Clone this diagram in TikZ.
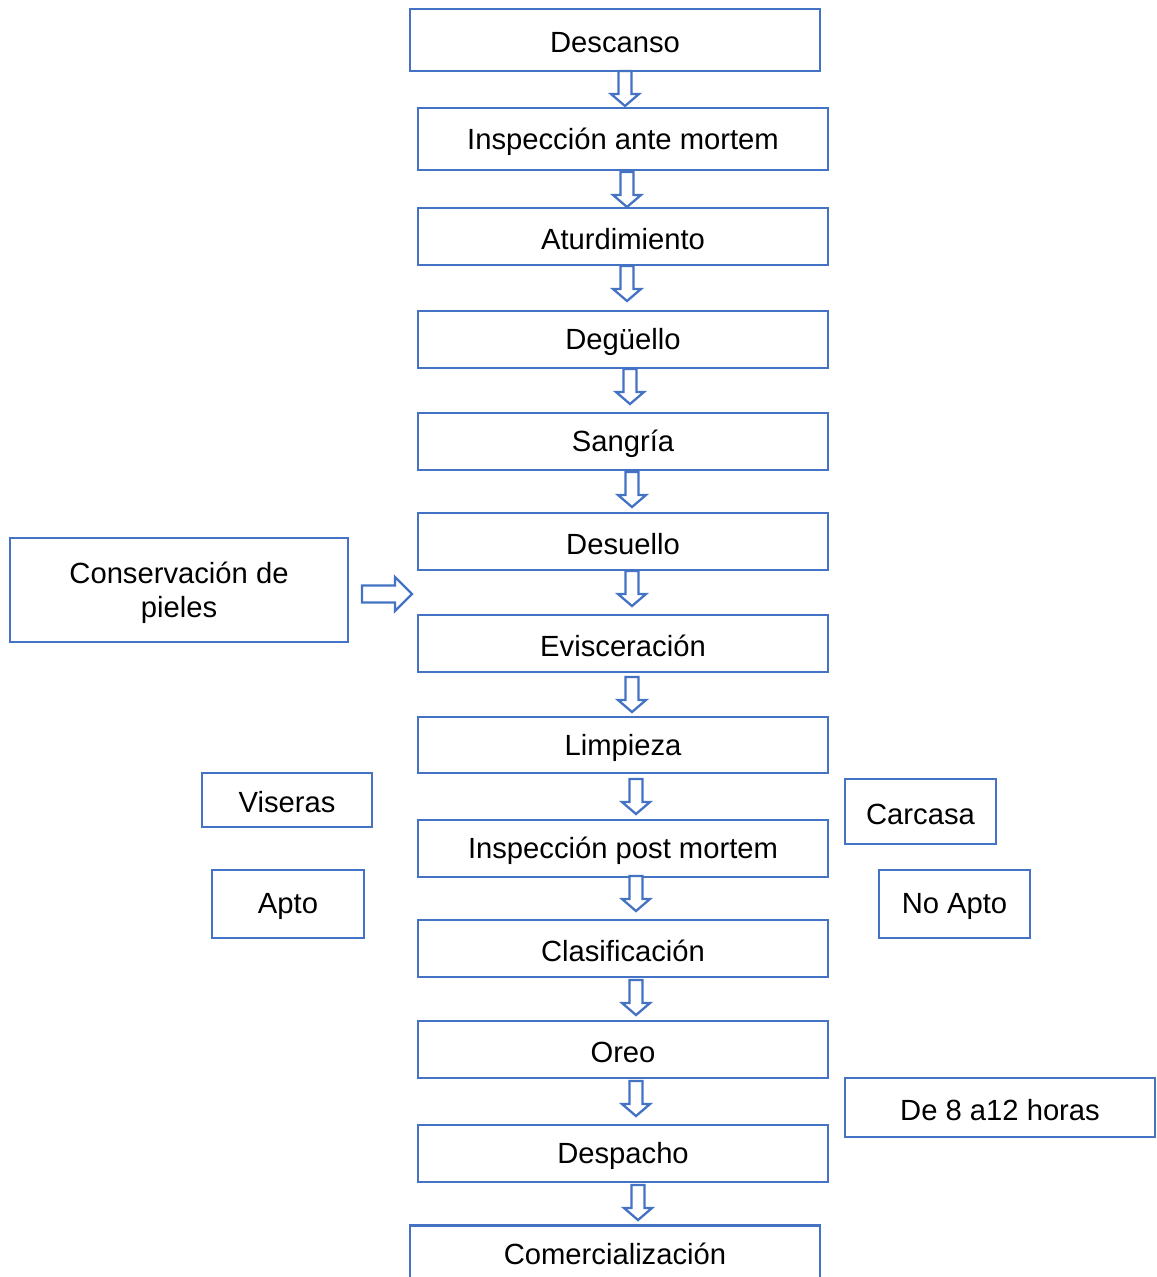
\documentclass[tikz,border=0pt]{standalone}
\usepackage{fontspec}
\setmainfont{Liberation Sans}
\definecolor{boxblue}{HTML}{4472C4}
\begin{document}
\begin{tikzpicture}[x=0.5pt,y=-0.5pt,
  box/.style={draw=boxblue,line width=1.35pt,fill=white,inner sep=0pt,
    font=\fontsize{14.6}{17}\selectfont,align=center,text=black},
  blockarrow/.style={draw=boxblue,line width=1.15pt,fill=white,line join=miter},
  pics/dnarrow/.style={code={
    \draw[blockarrow] (-6.5,0) -- (6.5,0) -- (6.5,23) -- (14,23) -- (0,35)
      -- (-14,23) -- (-6.5,23) -- cycle;}},
  pics/rtarrow/.style={code={
    \draw[blockarrow] (0,-8.5) -- (33,-8.5) -- (33,-17) -- (50,0) -- (33,17)
      -- (33,8.5) -- (0,8.5) -- cycle;}}
]
\useasboundingbox (0,0) rectangle (1156,1277);
\clip (0,0) rectangle (1156,1277);

% box: name, left, top, right, bottom, text (text sits a little low)
\newcommand\stepnode[6]{%
  \node[box,minimum width={(#4-#2)*0.5pt},minimum height={(#5-#3)*0.5pt}]
    (#1) at ({(#2+#4)/2},{(#3+#5)/2}) {};
  \node[box,draw=none,fill=none] (#1-text) at ({(#2+#4)/2},{(#3+#5)/2+2.5}) {#6};}

% main sequence
\stepnode{descanso}{410}{9}{820}{71}{Descanso}
\stepnode{ante}{418}{108}{828}{170}{Inspección ante mortem}
\stepnode{aturd}{418}{208}{828}{265}{Aturdimiento}
\stepnode{deg}{418}{311}{828}{368}{Degüello}
\stepnode{sang}{418}{413}{828}{470}{Sangría}
\stepnode{desu}{418}{513}{828}{570}{Desuello}
\stepnode{evis}{418}{615}{828}{672}{Evisceración}
\stepnode{limp}{418}{717}{828}{773}{Limpieza}
\stepnode{post}{418}{820}{828}{877}{Inspección post mortem}
\stepnode{clas}{418}{920}{828}{977}{Clasificación}
\stepnode{oreo}{418}{1021}{828}{1078}{Oreo}
\stepnode{desp}{418}{1125}{828}{1182}{Despacho}
\node[box,minimum width=205pt,minimum height=34pt,anchor=north]
  (comer) at (615,1224) {};
\node[box,draw=none,fill=none] (comer-text) at (615,1254) {Comercialización};

% side notes
\stepnode{cons}{10}{538}{348}{642}{Conservación de\\pieles}
\stepnode{vis}{202}{773}{372}{827}{Viseras}
\stepnode{apto}{212}{870}{364}{938}{Apto}
\stepnode{carc}{845}{779}{996}{844}{Carcasa}
\stepnode{noapto}{879}{870}{1030}{938}{No Apto}
\stepnode{horas}{845}{1078}{1155}{1137}{De 8 a12 horas}

% hollow block arrows between the steps
\pic at (625,71) {dnarrow};
\pic at (627,172) {dnarrow};
\pic at (627,266) {dnarrow};
\pic at (630,369) {dnarrow};
\pic at (632,472) {dnarrow};
\pic at (632,571) {dnarrow};
\pic at (632,677) {dnarrow};
\pic at (636,779) {dnarrow};
\pic at (636,876) {dnarrow};
\pic at (636,980) {dnarrow};
\pic at (636,1081) {dnarrow};
\pic at (638,1185) {dnarrow};
\pic at (362,594) {rtarrow};
\end{tikzpicture}
\end{document}
